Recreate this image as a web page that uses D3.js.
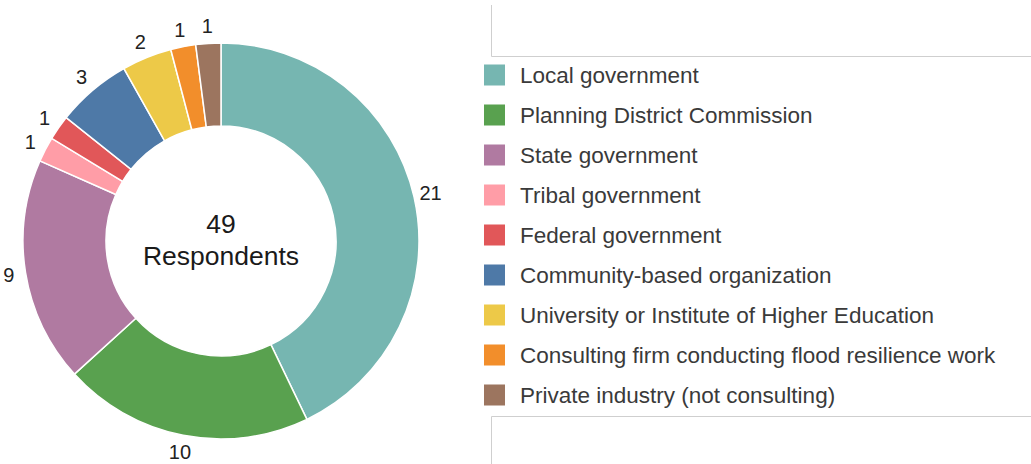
<!DOCTYPE html>
<html>
<head>
<meta charset="utf-8">
<script src="https://cdn.jsdelivr.net/npm/d3@7"></script>
<style>
  html, body { margin: 0; padding: 0; background: #fff; }
  svg { display: block; }
  text { font-family: "Liberation Sans", Arial, sans-serif; }
</style>
</head>
<body>
<svg id="chart" width="1031" height="464"></svg>
<script>
const categories = [
  "Local government",
  "Planning District Commission",
  "State government",
  "Tribal government",
  "Federal government",
  "Community-based organization",
  "University or Institute of Higher Education",
  "Consulting firm conducting flood resilience work",
  "Private industry (not consulting)"
];
const values = [21, 10, 9, 1, 1, 3, 2, 1, 1];
const colors = ["#76b6b1", "#59a14f", "#b07aa1", "#ff9da7", "#e15759", "#4e79a7", "#edc948", "#f28e2b", "#9c755f"];
const centerLines = ["49", "Respondents"];

const svg = d3.select("#chart");
const cx = 221, cy = 241, outerR = 198, innerR = 115, labelR = 215;

const color = d3.scaleOrdinal().domain(categories).range(colors);
const pie = d3.pie().value(d => d.v).sort(null);
const arcs = pie(categories.map((c, i) => ({ c, v: values[i] })));
const arc = d3.arc().innerRadius(innerR).outerRadius(outerR);
const labelArc = d3.arc().innerRadius(labelR).outerRadius(labelR);

const g = svg.append("g").attr("transform", `translate(${cx},${cy})`);
g.selectAll("path.slice").data(arcs).enter().append("path")
  .attr("class", "slice")
  .attr("d", arc)
  .attr("fill", d => color(d.data.c))
  .attr("stroke", "#fff")
  .attr("stroke-width", 1.5);

g.selectAll("text.val").data(arcs).enter().append("text")
  .attr("class", "val")
  .attr("transform", d => `translate(${labelArc.centroid(d)})`)
  .attr("text-anchor", "middle")
  .attr("dominant-baseline", "central")
  .attr("font-size", 20)
  .attr("fill", "#222")
  .text(d => d.data.v);

g.append("text").attr("text-anchor", "middle").attr("y", -8)
  .attr("font-size", 26.5).attr("fill", "#1a1a1a").text(centerLines[0]);
g.append("text").attr("text-anchor", "middle").attr("y", 24)
  .attr("font-size", 26.5).attr("fill", "#1a1a1a").text(centerLines[1]);

// decorative frame lines
svg.append("path").attr("d", "M491.5,5 V56.5 H1031").attr("fill", "none").attr("stroke", "#cfcfcf").attr("stroke-width", 1);
svg.append("path").attr("d", "M491.5,464 V416.5 H1031").attr("fill", "none").attr("stroke", "#cfcfcf").attr("stroke-width", 1);

// legend
const y = d3.scaleBand().domain(categories).range([55, 415]);
const leg = svg.append("g").selectAll("g").data(categories).enter().append("g")
  .attr("transform", d => `translate(484,${y(d) + y.bandwidth() / 2})`);
leg.append("rect").attr("x", 0).attr("y", -10.5).attr("width", 21).attr("height", 21)
  .attr("fill", d => color(d));
leg.append("text").attr("x", 36).attr("y", 0).attr("dominant-baseline", "central")
  .attr("font-size", 22.5).attr("fill", "#3a3a3a").text(d => d);
</script>
</body>
</html>
